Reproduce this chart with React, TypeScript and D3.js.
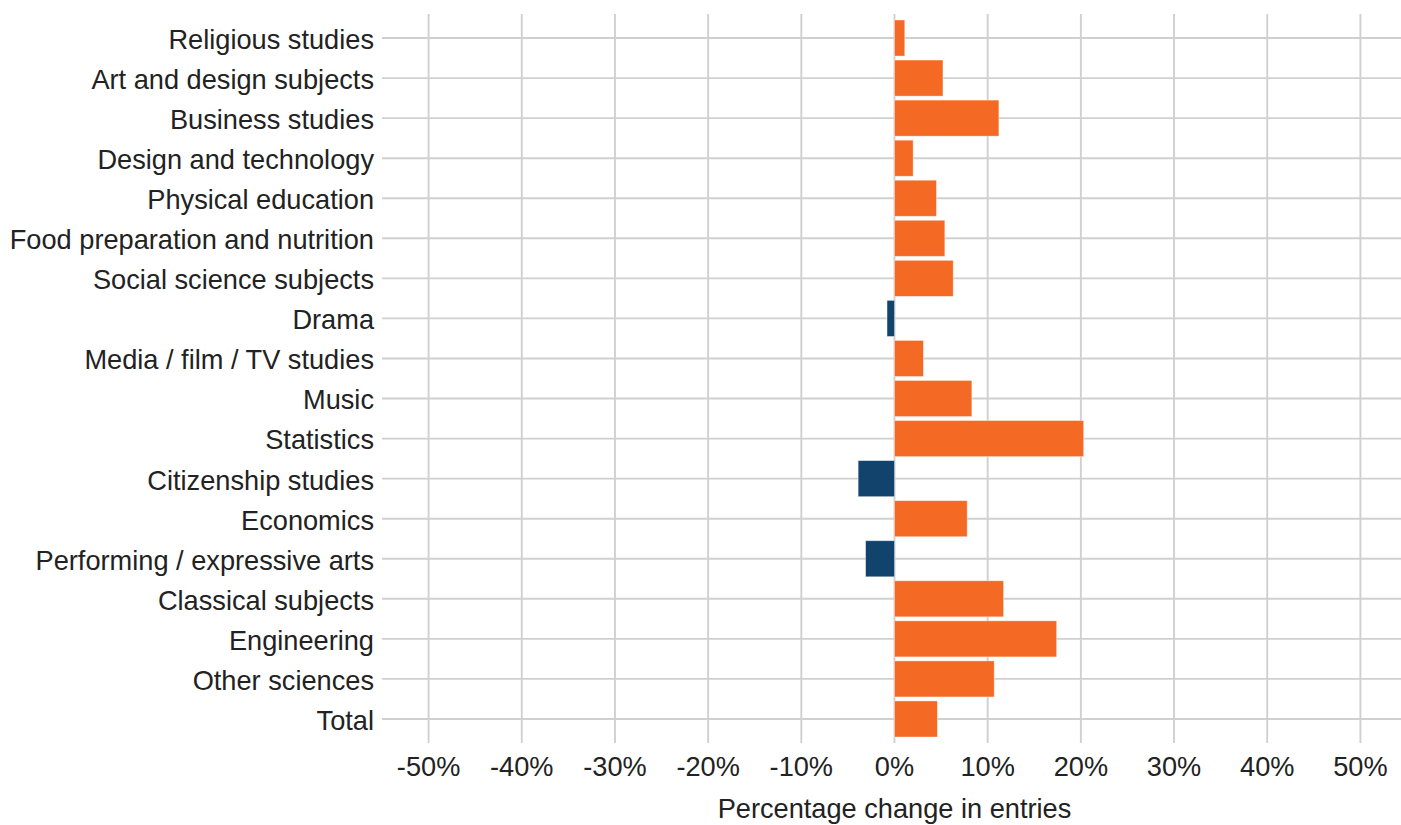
import React from "react";
import * as d3 from "d3";

const categories: string[] = [
  "Religious studies",
  "Art and design subjects",
  "Business studies",
  "Design and technology",
  "Physical education",
  "Food preparation and nutrition",
  "Social science subjects",
  "Drama",
  "Media / film / TV studies",
  "Music",
  "Statistics",
  "Citizenship studies",
  "Economics",
  "Performing / expressive arts",
  "Classical subjects",
  "Engineering",
  "Other sciences",
  "Total",
];

const changes: number[] = [
  1.1, 5.2, 11.2, 2.0, 4.5, 5.4, 6.3, -0.8, 3.1, 8.3, 20.3, -3.9, 7.8, -3.1,
  11.7, 17.4, 10.7, 4.6,
];

const xTicks: number[] = [-50, -40, -30, -20, -10, 0, 10, 20, 30, 40, 50];

const W = 1401;
const H = 825;
const PANEL_LEFT = 382;
const PANEL_RIGHT = 1407;
const PANEL_TOP = 14;
const PANEL_BOTTOM = 743;
const ORANGE = "#F46A25";
const NAVY = "#12436D";
const GRID = "#D0D0D0";
const TEXT = "#222222";
const FONT = "'Liberation Sans', Arial, Helvetica, sans-serif";

export default function App() {
  const x = d3.scaleLinear().domain([-55, 55]).range([PANEL_LEFT, PANEL_RIGHT]);
  const n = categories.length;
  const step = (PANEL_BOTTOM - PANEL_TOP) / (n - 1 + 1.2);
  const y = d3
    .scalePoint<string>()
    .domain(categories)
    .range([PANEL_TOP + 0.6 * step, PANEL_BOTTOM - 0.6 * step]);
  const barH = step * 0.9;

  return (
    <svg
      width={W}
      height={H}
      style={{ position: "absolute", left: 0, top: 0, background: "#fff" }}
      fontFamily={FONT}
    >
      <rect x={0} y={0} width={W} height={H} fill="#fff" />
      {categories.map((c) => (
        <line
          key={"h" + c}
          x1={PANEL_LEFT}
          x2={PANEL_RIGHT}
          y1={y(c)}
          y2={y(c)}
          stroke={GRID}
          strokeWidth={1.9}
        />
      ))}
      {xTicks.map((t) => (
        <line
          key={"v" + t}
          x1={x(t)}
          x2={x(t)}
          y1={PANEL_TOP}
          y2={PANEL_BOTTOM}
          stroke={GRID}
          strokeWidth={1.9}
        />
      ))}
      {categories.map((c, i) => {
        const v = changes[i];
        const x0 = x(Math.min(0, v));
        const x1 = x(Math.max(0, v));
        return (
          <rect
            key={"b" + c}
            x={x0}
            y={(y(c) as number) - barH / 2}
            width={x1 - x0}
            height={barH}
            fill={v >= 0 ? ORANGE : NAVY}
            stroke="rgba(255,255,255,0.45)"
            strokeWidth={0.8}
          />
        );
      })}
      {categories.map((c) => (
        <text
          key={"l" + c}
          x={374}
          y={y(c)}
          dy="0.4em"
          textAnchor="end"
          fontSize={27.2}
          fill={TEXT}
        >
          {c}
        </text>
      ))}
      {xTicks.map((t) => (
        <text
          key={"t" + t}
          x={x(t)}
          y={776}
          textAnchor="middle"
          fontSize={27.2}
          fill={TEXT}
        >
          {`${t}%`}
        </text>
      ))}
      <text
        x={(PANEL_LEFT + PANEL_RIGHT) / 2}
        y={818}
        textAnchor="middle"
        fontSize={27.2}
        fill={TEXT}
      >
        Percentage change in entries
      </text>
    </svg>
  );
}
